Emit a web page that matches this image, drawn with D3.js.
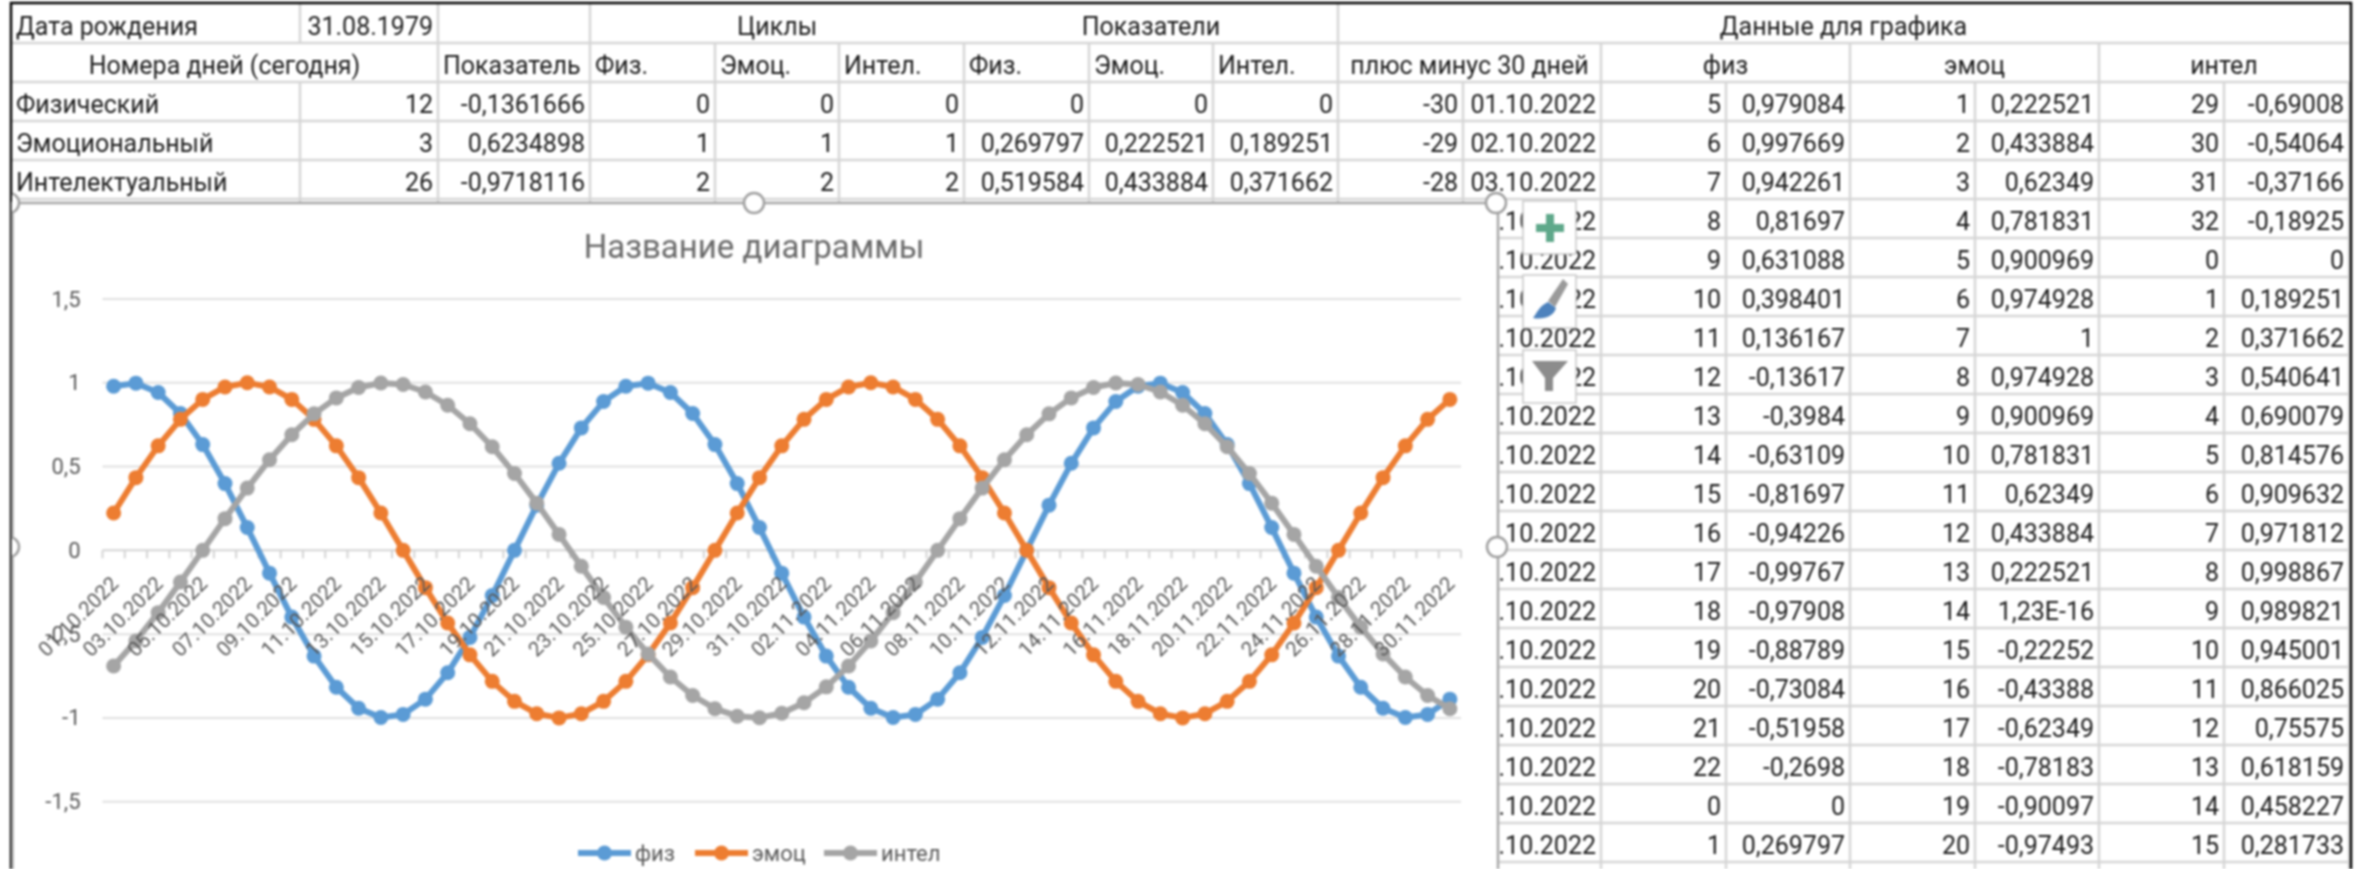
<!DOCTYPE html>
<html>
<head>
<meta charset="utf-8">
<script src="https://cdn.jsdelivr.net/npm/d3@7"></script>
<style>
  html, body { margin: 0; padding: 0; background: #fff; overflow: hidden; }
  svg { display: block; filter: blur(0.8px); }
</style>
</head>
<body>
<div id="sheet"></div>
<script>
// chart data read from the sheet
var fizValues = [0.979084, 0.997669, 0.942261, 0.81697, 0.631088, 0.398401, 0.136167, -0.13617, -0.3984, -0.63109,
  -0.81697, -0.94226, -0.99767, -0.97908, -0.88789, -0.73084, -0.51958, -0.2698, 0, 0.269797,
  0.519584, 0.730836, 0.887885, 0.979084, 0.997669, 0.942261, 0.81697, 0.631088, 0.398401, 0.136167,
  -0.13617, -0.3984, -0.63109, -0.81697, -0.94226, -0.99767, -0.97908, -0.88789, -0.73084, -0.51958,
  -0.2698, 0, 0.269797, 0.519584, 0.730836, 0.887885, 0.979084, 0.997669, 0.942261, 0.81697,
  0.631088, 0.398401, 0.136167, -0.13617, -0.3984, -0.63109, -0.81697, -0.94226, -0.99767, -0.97908, -0.88789];
var emocValues = [0.222521, 0.433884, 0.62349, 0.781831, 0.900969, 0.974928, 1, 0.974928, 0.900969, 0.781831,
  0.62349, 0.433884, 0.222521, 0, -0.22252, -0.43388, -0.62349, -0.78183, -0.90097, -0.97493,
  -1, -0.97493, -0.90097, -0.78183, -0.62349, -0.43388, -0.22252, 0, 0.222521, 0.433884,
  0.62349, 0.781831, 0.900969, 0.974928, 1, 0.974928, 0.900969, 0.781831, 0.62349, 0.433884,
  0.222521, 0, -0.22252, -0.43388, -0.62349, -0.78183, -0.90097, -0.97493, -1, -0.97493,
  -0.90097, -0.78183, -0.62349, -0.43388, -0.22252, 0, 0.222521, 0.433884, 0.62349, 0.781831, 0.900969];
var intelValues = [-0.69008, -0.54064, -0.37166, -0.18925, 0, 0.189251, 0.371662, 0.540641, 0.690079, 0.814576,
  0.909632, 0.971812, 0.998867, 0.989821, 0.945001, 0.866025, 0.75575, 0.618159, 0.458227, 0.281733,
  0.095056, -0.09506, -0.28173, -0.45823, -0.61816, -0.75575, -0.86603, -0.945, -0.98982, -0.99887,
  -0.97181, -0.90963, -0.81458, -0.69008, -0.54064, -0.37166, -0.18925, 0, 0.189251, 0.371662,
  0.540641, 0.690079, 0.814576, 0.909632, 0.971812, 0.998867, 0.989821, 0.945001, 0.866025, 0.75575,
  0.618159, 0.458227, 0.281733, 0.095056, -0.09506, -0.28173, -0.45823, -0.61816, -0.75575, -0.86603, -0.945];
var yTicks = [-1.5, -1, -0.5, 0, 0.5, 1, 1.5];
var seriesNames = ["физ", "эмоц", "интел"];
var seriesColors = ["#5b9bd5", "#ed7d31", "#a5a5a5"];

// sheet columns on the right
var fizNums = [5, 6, 7, 8, 9, 10, 11, 12, 13, 14, 15, 16, 17, 18, 19, 20, 21, 22, 0, 1];
var fizText = ["0,979084", "0,997669", "0,942261", "0,81697", "0,631088", "0,398401", "0,136167", "-0,13617", "-0,3984", "-0,63109",
  "-0,81697", "-0,94226", "-0,99767", "-0,97908", "-0,88789", "-0,73084", "-0,51958", "-0,2698", "0", "0,269797"];
var emocNums = [1, 2, 3, 4, 5, 6, 7, 8, 9, 10, 11, 12, 13, 14, 15, 16, 17, 18, 19, 20];
var emocText = ["0,222521", "0,433884", "0,62349", "0,781831", "0,900969", "0,974928", "1", "0,974928", "0,900969", "0,781831",
  "0,62349", "0,433884", "0,222521", "1,23E-16", "-0,22252", "-0,43388", "-0,62349", "-0,78183", "-0,90097", "-0,97493"];
var intelNums = [29, 30, 31, 32, 0, 1, 2, 3, 4, 5, 6, 7, 8, 9, 10, 11, 12, 13, 14, 15];
var intelText = ["-0,69008", "-0,54064", "-0,37166", "-0,18925", "0", "0,189251", "0,371662", "0,540641", "0,690079", "0,814576",
  "0,909632", "0,971812", "0,998867", "0,989821", "0,945001", "0,866025", "0,75575", "0,618159", "0,458227", "0,281733"];
var offsets = [-30, -29, -28];
var leftLabels = ["Физический", "Эмоциональный", "Интелектуальный"];
var dayNumbers = ["12", "3", "26"];
var indicators = ["-0,1361666", "0,6234898", "-0,9718116"];
var cycleRows = [[0, 0, 0], [1, 1, 1], [2, 2, 2]];
var indicatorRows = [["0", "0", "0"], ["0,269797", "0,222521", "0,189251"], ["0,519584", "0,433884", "0,371662"]];

var fmtDay = d3.timeFormat("%d.%m.%Y");
var dates = d3.timeDay.range(new Date(2022, 9, 1), new Date(2022, 11, 1));
var dateLabels = dates.map(fmtDay);

var width = 2364, height = 869;
var svg = d3.select("#sheet").append("svg").attr("width", width).attr("height", height);
svg.append("rect").attr("width", width).attr("height", height).attr("fill", "#fff");

///////////////// sheet grid /////////////////
var colEdges = [11, 300, 438, 590, 715, 839, 964, 1089, 1213, 1338, 1463, 1601, 1726, 1850, 1975, 2099, 2224, 2349];
var rowY = function (r) { return 4 + 39 * r; };
var sheetFont = "Roboto, sans-serif";
var grid = svg.append("g").attr("stroke", "#d6d6d6").attr("stroke-width", 2.5);

// horizontal lines
d3.range(1, 23).forEach(function (r) {
  grid.append("line").attr("x1", colEdges[0]).attr("x2", colEdges[17]).attr("y1", rowY(r)).attr("y2", rowY(r));
});
// vertical lines, first row and second row have merged cells
var topCols = [1, 2, 3, 9];
var secondCols = [2, 3, 4, 5, 6, 7, 8, 9, 11, 13, 15];
topCols.forEach(function (c) {
  grid.append("line").attr("x1", colEdges[c]).attr("x2", colEdges[c]).attr("y1", rowY(0)).attr("y2", rowY(1));
});
secondCols.forEach(function (c) {
  grid.append("line").attr("x1", colEdges[c]).attr("x2", colEdges[c]).attr("y1", rowY(1)).attr("y2", rowY(2));
});
d3.range(1, 18).forEach(function (c) {
  grid.append("line").attr("x1", colEdges[c]).attr("x2", colEdges[c]).attr("y1", rowY(2)).attr("y2", height);
});

///////////////// sheet text /////////////////
var cells = [];
function cell(r, c, text, align, c2) { cells.push({ r: r, c: c, c2: c2 === undefined ? c + 1 : c2, text: String(text), align: align }); }

cell(0, 0, "Дата рождения", "l");
cell(0, 1, "31.08.1979", "r");
cell(0, 3, "Циклы", "m", 6);
cell(0, 6, "Показатели", "m", 9);
cell(0, 9, "Данные для графика", "m", 17);
cell(1, 0, "Номера дней (сегодня)", "m", 2);
cell(1, 2, "Показатель", "l");
["Физ.", "Эмоц.", "Интел.", "Физ.", "Эмоц.", "Интел."].forEach(function (t, i) { cell(1, 3 + i, t, "l"); });
cell(1, 9, "плюс минус 30 дней", "m", 11);
cell(1, 11, "физ", "m", 13);
cell(1, 13, "эмоц", "m", 15);
cell(1, 15, "интел", "m", 17);
leftLabels.forEach(function (t, i) {
  cell(2 + i, 0, t, "l");
  cell(2 + i, 1, dayNumbers[i], "r");
  cell(2 + i, 2, indicators[i], "r");
  cycleRows[i].forEach(function (v, j) { cell(2 + i, 3 + j, v, "r"); });
  indicatorRows[i].forEach(function (v, j) { cell(2 + i, 6 + j, v, "r"); });
  cell(2 + i, 9, offsets[i], "r");
});
fizNums.forEach(function (n, i) {
  cell(2 + i, 10, dateLabels[i], "r");
  cell(2 + i, 11, n, "r");
  cell(2 + i, 12, fizText[i], "r");
  cell(2 + i, 13, emocNums[i], "r");
  cell(2 + i, 14, emocText[i], "r");
  cell(2 + i, 15, intelNums[i], "r");
  cell(2 + i, 16, intelText[i], "r");
});

svg.append("g").selectAll("text").data(cells).enter().append("text")
  .attr("x", function (d) {
    if (d.align === "l") return colEdges[d.c] + 5;
    if (d.align === "r") return colEdges[d.c2] - 5;
    return (colEdges[d.c] + colEdges[d.c2]) / 2;
  })
  .attr("y", function (d) { return rowY(d.r + 1) - 8; })
  .attr("text-anchor", function (d) { return d.align === "l" ? "start" : d.align === "r" ? "end" : "middle"; })
  .attr("font-family", sheetFont).attr("font-size", 25).attr("fill", "#1c1c1c")
  .text(function (d) { return d.text; });

// outer black frame
svg.append("rect").attr("x", 11).attr("y", 3).attr("width", 2340).attr("height", 900)
  .attr("fill", "none").attr("stroke", "#000").attr("stroke-width", 2.5);

///////////////// chart /////////////////
var chartRight = 1498, chartTop = 203;
svg.append("rect").attr("x", 12.5).attr("y", chartTop).attr("width", chartRight - 12.5).attr("height", height)
  .attr("fill", "#fff").attr("stroke", "#a8a8a8").attr("stroke-width", 2.5);

var x = d3.scaleBand().domain(dateLabels).range([102.5, 1461]);
var y = d3.scaleLinear().domain([-1.5, 1.5]).range([801.7, 299]);
var chartFont = "Roboto, sans-serif";

// gridlines
svg.append("g").selectAll("line").data(yTicks.filter(function (t) { return t !== 0; })).enter().append("line")
  .attr("x1", x.range()[0]).attr("x2", x.range()[1])
  .attr("y1", function (d) { return y(d); }).attr("y2", function (d) { return y(d); })
  .attr("stroke", "#e0e0e0").attr("stroke-width", 2);

// y axis
var yAxis = svg.append("g").attr("transform", "translate(" + x.range()[0] + ",0)")
  .call(d3.axisLeft(y).tickValues(yTicks).tickSize(0).tickPadding(22)
    .tickFormat(function (d) { return String(d).replace(".", ","); }));
yAxis.select(".domain").remove();
yAxis.selectAll("text").attr("font-family", chartFont).attr("font-size", 22).attr("fill", "#595959");

// zero line with ticks on the band edges
svg.append("line").attr("x1", x.range()[0]).attr("x2", x.range()[1]).attr("y1", y(0)).attr("y2", y(0))
  .attr("stroke", "#d4d4d4").attr("stroke-width", 2);
svg.append("g").selectAll("line").data(dateLabels.concat(["end"])).enter().append("line")
  .attr("x1", function (d, i) { return x.range()[0] + i * x.step(); })
  .attr("x2", function (d, i) { return x.range()[0] + i * x.step(); })
  .attr("y1", y(0)).attr("y2", y(0) + 8)
  .attr("stroke", "#d4d4d4").attr("stroke-width", 2);

// series
var series = [fizValues, emocValues, intelValues];
var line = d3.line()
  .x(function (d, i) { return x(dateLabels[i]) + x.bandwidth() / 2; })
  .y(function (d) { return y(d); });

series.forEach(function (values, s) {
  var g = svg.append("g");
  g.append("path").attr("d", line(values)).attr("fill", "none")
    .attr("stroke", seriesColors[s]).attr("stroke-width", 6).attr("stroke-linejoin", "round");
  g.selectAll("circle").data(values).enter().append("circle")
    .attr("cx", function (d, i) { return x(dateLabels[i]) + x.bandwidth() / 2; })
    .attr("cy", function (d) { return y(d); })
    .attr("r", 7.5).attr("fill", seriesColors[s]);
});

// x labels, every second day, on top of the lines
svg.append("g").selectAll("text").data(dateLabels.filter(function (d, i) { return i % 2 === 0; })).enter().append("text")
  .attr("transform", function (d) { return "translate(" + (x(d) + x.bandwidth() / 2 + 6) + ",585) rotate(-45)"; })
  .attr("text-anchor", "end")
  .attr("font-family", chartFont).attr("font-size", 20.5).attr("fill", "#595959")
  .text(function (d) { return d; });

// title
svg.append("text").attr("x", 754).attr("y", 258).attr("text-anchor", "middle")
  .attr("font-family", chartFont).attr("font-size", 33).attr("fill", "#6a6a6a")
  .text("Название диаграммы");

// legend
var legendX = [578, 695, 824];
seriesNames.forEach(function (name, i) {
  var g = svg.append("g").attr("transform", "translate(" + legendX[i] + ",853)");
  g.append("line").attr("x1", 0).attr("x2", 53).attr("stroke", seriesColors[i]).attr("stroke-width", 6);
  g.append("circle").attr("cx", 26.5).attr("r", 7.5).attr("fill", seriesColors[i]);
  g.append("text").attr("x", 57).attr("y", 8).attr("font-family", chartFont).attr("font-size", 22)
    .attr("fill", "#595959").text(name);
});

// selection handles, clipped by the frame on the left
var handles = [[9, 203], [754, 203], [1496, 203], [9, 547], [1497, 547]];
svg.append("clipPath").attr("id", "frameClip").append("rect").attr("x", 12).attr("y", 0).attr("width", width).attr("height", height);
svg.append("g").attr("clip-path", "url(#frameClip)").selectAll("circle").data(handles).enter().append("circle")
  .attr("cx", function (d) { return d[0]; }).attr("cy", function (d) { return d[1]; })
  .attr("r", 10).attr("fill", "#fff").attr("stroke", "#a0a0a0").attr("stroke-width", 2.5);

// chart buttons
var buttons = [201, 275, 350];
svg.append("g").selectAll("rect").data(buttons).enter().append("rect")
  .attr("x", 1523).attr("y", function (d) { return d; }).attr("width", 53).attr("height", 53)
  .attr("fill", "#fff").attr("stroke", "#c8c8c8").attr("stroke-width", 1.5);
// plus
svg.append("path").attr("d", "M1546,214h8v10h10v8h-10v10h-8v-10h-10v-8h10z").attr("fill", "#5fa88a");
// brush
svg.append("path").attr("d", "M1568,284L1563,279L1548,301L1555,307z").attr("fill", "#9a9a9a");
svg.append("path").attr("d", "M1548,302L1556,308C1554,316 1544,320 1533,318C1537,313 1539,306 1548,302z").attr("fill", "#4d82bd");
// funnel
svg.append("path").attr("d", "M1532,361H1568L1553,378V391H1545V378z").attr("fill", "#8c8c8c");
</script>
</body>
</html>
